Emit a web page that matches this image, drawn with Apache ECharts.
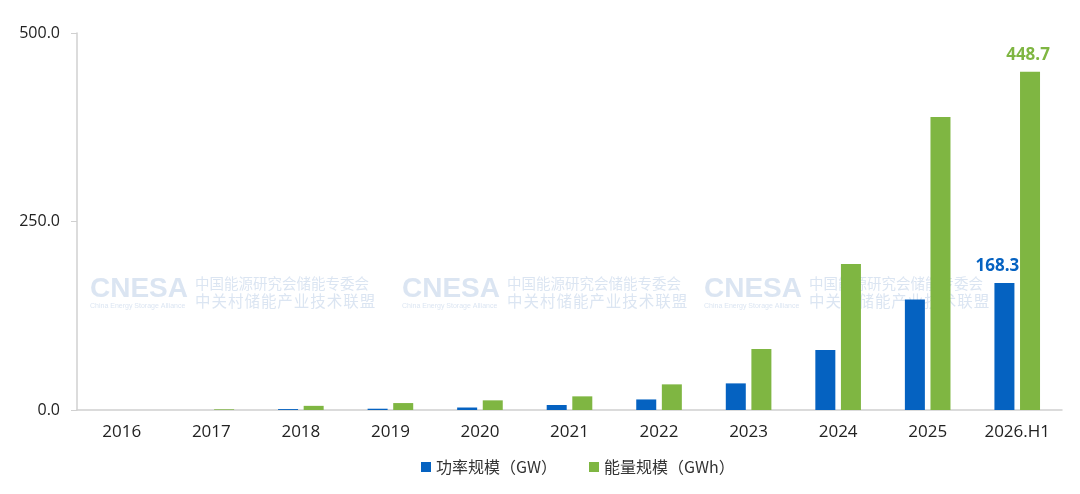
<!DOCTYPE html>
<html><head><meta charset="utf-8">
<script src="https://cdn.jsdelivr.net/npm/echarts@6/dist/echarts.min.js"></script>
<style>html,body{margin:0;padding:0;background:#fff}#c{width:1080px;height:494px}</style>
</head><body><div id="c"></div>
<script>
const categories = ['2016','2017','2018','2019','2020','2021','2022','2023','2024','2025','2026.H1'];
const powerGW = [0, 0, 1.2, 1.7, 3.3, 6.6, 14.0, 35.3, 79.5, 146.5, 168.3];
const energyGWh = [0, 0.9, 5.5, 9.2, 12.8, 18.1, 34.0, 80.8, 193.5, 388.6, 448.7];
const yTicks = { min: 0, max: 500, interval: 250 };
const seriesNames = ['功率规模（GW）', '能量规模（GWh）'];
const colors = ['#0562C1', '#7FB642'];

const lastLabel = (arr, color, off) => arr.map((v, i) => i === arr.length - 1
  ? { value: v, label: { show: true, position: 'top', distance: 8, offset: [off, 0], color: color, fontWeight: 'bold', fontSize: 17,
      fontFamily: 'Open Sans, Noto Sans, sans-serif', formatter: p => p.value.toFixed(1) } }
  : v);

function watermark(x) {
  const c = 'rgba(170,192,225,0.42)';
  return { type: 'group', left: x, top: 275, z: 100, silent: true, children: [
    { type: 'text', x: 0, y: 0, style: { text: 'CNESA', fill: c, font: 'bold 28px "Liberation Sans", Arial, sans-serif' } },
    { type: 'text', x: 0, y: 28, style: { text: 'China Energy Storage Alliance', fill: c, font: '7px "Liberation Sans", Arial, sans-serif' } },
    { type: 'text', x: 105, y: 1, style: { text: '中国能源研究会储能专委会', fill: c, font: '14.5px "Noto Sans CJK SC"' } },
    { type: 'text', x: 105, y: 18, style: { text: '中\u200A关\u200A村\u200A储\u200A能\u200A产\u200A业\u200A技\u200A术\u200A联\u200A盟', fill: c, font: '15.5px "Noto Sans CJK SC"' } }
  ]};
}

const chart = echarts.init(document.getElementById('c'), null, { renderer: 'canvas' });
chart.setOption({
  animation: false,
  textStyle: { fontFamily: '"Noto Sans CJK SC", sans-serif' },
  grid: { left: 77, right: 18, top: 33, bottom: 84, containLabel: false },
  legend: {
    bottom: 14, left: 416, itemWidth: 10, itemHeight: 10, itemGap: 32, icon: 'rect',
    textStyle: { fontSize: 16, color: '#333', fontFamily: '"Noto Sans CJK SC", sans-serif' },
    data: seriesNames
  },
  xAxis: {
    type: 'category', data: categories,
    axisLine: { lineStyle: { color: '#d0d0d0', width: 1.5 } },
    axisTick: { show: false },
    axisLabel: { color: '#222', fontSize: 17, margin: 14, fontFamily: '"Open Sans", "Noto Sans", sans-serif' }
  },
  yAxis: {
    type: 'value', min: yTicks.min, max: yTicks.max, interval: yTicks.interval,
    splitLine: { show: false },
    axisLine: { show: true, lineStyle: { color: '#d0d0d0', width: 1.5 } },
    axisTick: { show: true, inside: false, length: 6, lineStyle: { color: '#d0d0d0' } },
    axisLabel: { color: '#222', fontSize: 16, margin: 17, formatter: v => v.toFixed(1),
      fontFamily: '"Open Sans", "Noto Sans", sans-serif' }
  },
  series: [
    { name: seriesNames[0], type: 'bar', barWidth: 20, barGap: '28%', itemStyle: { color: colors[0] },
      data: lastLabel(powerGW, colors[0], -7) },
    { name: seriesNames[1], type: 'bar', barWidth: 20, itemStyle: { color: colors[1] },
      data: lastLabel(energyGWh, colors[1], -2) }
  ],
  graphic: [watermark(90), watermark(402), watermark(704)]
});
</script></body></html>
